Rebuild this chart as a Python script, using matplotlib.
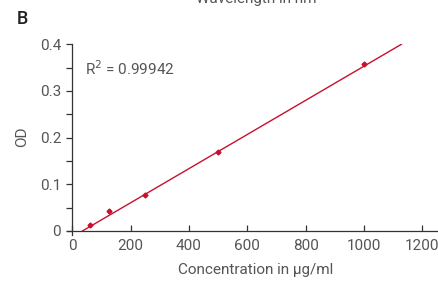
import matplotlib
matplotlib.use('Agg')
import matplotlib.pyplot as plt
from matplotlib.ticker import MultipleLocator

# standard curve data
conc = [62.5, 125, 250, 500, 1000]
od = [0.0135, 0.042, 0.076, 0.170, 0.357]

# regression line as drawn in the picture
fit_slope = 0.000366
fit_intercept = -0.0128
fit_range = [35, 1128]
r_squared = 0.99942

x_ticks = [0, 200, 400, 600, 800, 1000, 1200]
y_ticks = [0, 0.1, 0.2, 0.3, 0.4]
y_labels = ['0', '0.1', '0.2', '0.3', '0.4']

red = '#c8102e'
grey = '#555555'
plt.rcParams['font.family'] = ['Roboto', 'DejaVu Sans']

fig = plt.figure(figsize=(4.39, 2.81), dpi=100)
ax = fig.add_axes([0.1526, 0.1648, 0.843, 0.6776])

fit_y = [fit_slope * x + fit_intercept for x in fit_range]
ax.plot(fit_range, fit_y, color=red, lw=1.0)
ax.plot(conc, od, ls='none', marker='D', ms=2.5, color=red)

ax.set_xlim(-18, 1250)
ax.set_ylim(-0.008, 0.4)
ax.spines['left'].set_position(('data', 0))
ax.spines['bottom'].set_position(('data', 0))
for s in ['top', 'right']:
    ax.spines[s].set_visible(False)
for s in ['left', 'bottom']:
    ax.spines[s].set_color('#333333')
    ax.spines[s].set_linewidth(0.9)

ax.set_xticks(x_ticks)
ax.set_xticklabels([str(t) for t in x_ticks])
ax.set_yticks(y_ticks)
ax.set_yticklabels(y_labels)
ax.yaxis.set_minor_locator(MultipleLocator(0.05))
ax.tick_params(axis='x', direction='in', length=4, width=0.9, color='#333333',
               labelsize=11, labelcolor=grey, pad=6)
ax.tick_params(axis='y', which='both', direction='out', length=4, width=0.9,
               color='#333333', labelsize=11, labelcolor=grey, pad=4)

ax.text(45, 0.347, 'R$^2$ = %.5f' % r_squared, fontsize=11, color=grey,
        va='center', ha='left')

fig.text(256 / 439, 1 - 270 / 281, 'Concentration in µg/ml', fontsize=11,
         color=grey, ha='center', va='center')
fig.text(22 / 439, 1 - 137 / 281, 'OD', fontsize=11, color=grey,
         ha='center', va='center', rotation=90)
fig.text(17 / 439, 1 - 19 / 281, 'B', fontsize=13, color='#222222',
         fontweight='medium', ha='left', va='center')
fig.text(256 / 439, 1 - 3 / 281, 'Wavelength in nm', fontsize=11,
         color=grey, ha='center', va='baseline')

fig.savefig('out.png', dpi=100)
